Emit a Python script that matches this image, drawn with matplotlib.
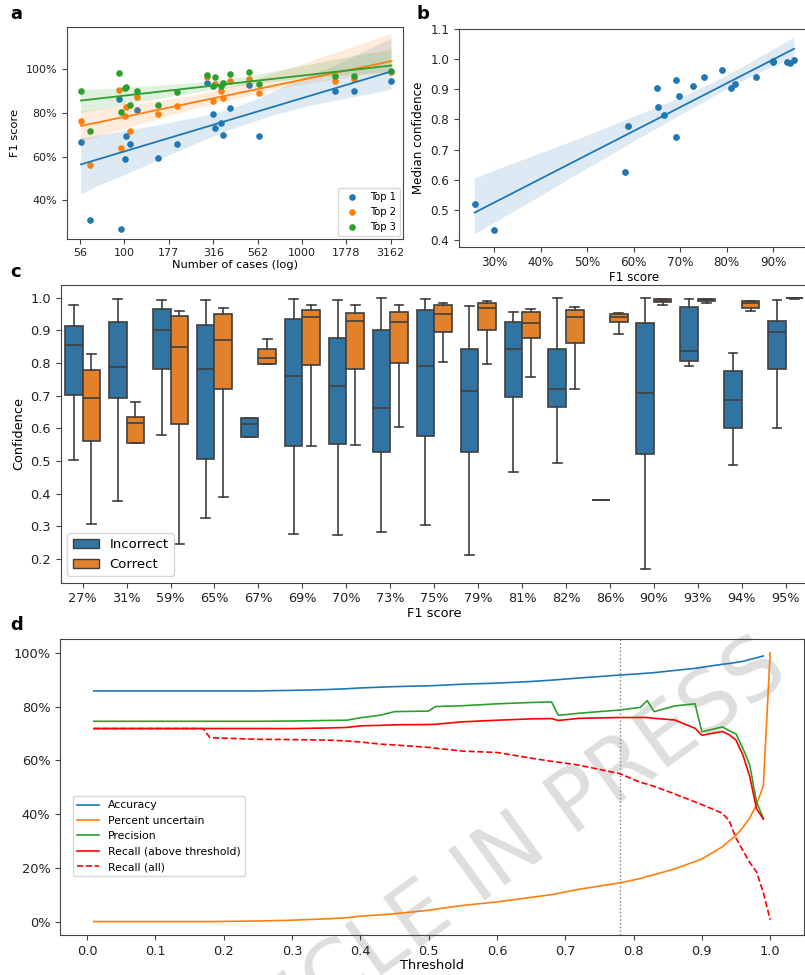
import matplotlib
matplotlib.use('Agg')
import matplotlib.pyplot as plt
import numpy as np
import seaborn as sns
from matplotlib.patches import Patch
from matplotlib.ticker import PercentFormatter

# ---- panel a: F1 vs number of cases ----
n_cases = [57, 64, 93, 96, 101, 102, 107, 117, 155, 198, 291, 316, 324, 348,
           361, 394, 506, 571, 1542, 1968, 3192]
top1_f1 = [0.667, 0.308, 0.864, 0.269, 0.588, 0.695, 0.656, 0.814, 0.592, 0.656, 0.939,
           0.794, 0.731, 0.756, 0.701, 0.821, 0.930, 0.695, 0.901, 0.901, 0.947]
top2_f1 = [0.762, 0.562, 0.904, 0.641, 0.785, 0.827, 0.716, 0.873, 0.794, 0.831, 0.966,
           0.853, 0.933, 0.899, 0.870, 0.947, 0.957, 0.889, 0.947, 0.957, 0.988]
top3_f1 = [0.899, 0.716, 0.982, 0.802, 0.915, 0.919, 0.838, 0.901, 0.838, 0.895, 0.974,
           0.925, 0.963, 0.924, 0.939, 0.976, 0.988, 0.934, 0.971, 0.971, 0.992]
case_ticks = [1.75, 2.0, 2.25, 2.5, 2.75, 3.0, 3.25, 3.5]
case_tick_labels = ['56', '100', '177', '316', '562', '1000', '1778', '3162']

# ---- panel b: median confidence vs F1 ----
class_f1 = [0.258, 0.300, 0.580, 0.588, 0.649, 0.651, 0.664, 0.691, 0.691, 0.698, 0.727,
            0.751, 0.790, 0.810, 0.817, 0.863, 0.899, 0.900, 0.929, 0.937, 0.945]
median_conf = [0.519, 0.433, 0.625, 0.779, 0.903, 0.842, 0.815, 0.932, 0.741, 0.877, 0.911,
               0.940, 0.965, 0.904, 0.918, 0.941, 0.993, 0.990, 0.992, 0.987, 0.998]

# ---- panel c: confidence boxes (whislo, q1, med, q3, whishi) ----
f1_labels = ['27%', '31%', '59%', '65%', '67%', '69%', '70%', '73%', '75%', '79%',
             '81%', '82%', '86%', '90%', '93%', '94%', '95%']
incorrect_box = [
    (0.504, 0.702, 0.854, 0.915, 0.978),
    (0.378, 0.694, 0.788, 0.926, 0.997),
    (0.581, 0.781, 0.902, 0.967, 0.993),
    (0.326, 0.506, 0.782, 0.918, 0.993),
    (0.574, 0.574, 0.614, 0.633, 0.633),
    (0.277, 0.547, 0.761, 0.934, 0.997),
    (0.275, 0.554, 0.729, 0.877, 0.993),
    (0.283, 0.529, 0.663, 0.900, 1.000),
    (0.305, 0.578, 0.790, 0.963, 0.996),
    (0.212, 0.527, 0.714, 0.842, 0.975),
    (0.467, 0.696, 0.844, 0.925, 0.955),
    (0.493, 0.666, 0.720, 0.842, 1.000),
    (0.382, 0.382, 0.382, 0.382, 0.382),
    (0.171, 0.522, 0.709, 0.923, 1.000),
    (0.790, 0.805, 0.837, 0.972, 0.996),
    (0.489, 0.600, 0.687, 0.776, 0.831),
    (0.602, 0.781, 0.894, 0.929, 0.994),
]
correct_box = [
    (0.309, 0.561, 0.692, 0.778, 0.828),
    (0.555, 0.555, 0.618, 0.635, 0.681),
    (0.246, 0.613, 0.849, 0.944, 0.959),
    (0.390, 0.721, 0.871, 0.950, 0.969),
    (0.796, 0.796, 0.817, 0.843, 0.875),
    (0.547, 0.793, 0.941, 0.963, 0.978),
    (0.548, 0.782, 0.929, 0.953, 0.978),
    (0.604, 0.801, 0.925, 0.957, 0.978),
    (0.804, 0.896, 0.950, 0.977, 0.983),
    (0.796, 0.901, 0.968, 0.983, 0.990),
    (0.758, 0.876, 0.923, 0.955, 0.965),
    (0.720, 0.861, 0.941, 0.964, 0.972),
    (0.890, 0.926, 0.942, 0.951, 0.954),
    (0.978, 0.986, 0.991, 0.996, 0.997),
    (0.985, 0.991, 0.993, 0.995, 0.996),
    (0.958, 0.969, 0.985, 0.990, 0.991),
    (0.997, 0.998, 0.998, 0.999, 1.000),
]

# ---- panel d: metrics vs threshold (percent) ----
thresholds = [0.01, 0.10, 0.17, 0.18, 0.25, 0.30, 0.35, 0.38, 0.40, 0.43, 0.45, 0.50, 0.51,
              0.55, 0.60, 0.65, 0.68, 0.69, 0.72, 0.78, 0.81, 0.82, 0.83, 0.86, 0.89, 0.90,
              0.93, 0.94, 0.95, 0.96, 0.97, 0.98, 0.99]
accuracy = [85.8, 85.8, 85.8, 85.8, 85.8, 86.0, 86.3, 86.6, 86.9, 87.2, 87.4, 87.7, 87.8,
            88.3, 88.7, 89.3, 89.8, 90.0, 90.6, 91.7, 92.2, 92.4, 92.6, 93.4, 94.2, 94.6,
            95.7, 96.0, 96.4, 96.8, 97.5, 98.1, 98.8]
pct_uncertain = [0.0, 0.0, 0.0, 0.0, 0.2, 0.5, 1.0, 1.4, 2.0, 2.5, 2.9, 4.2, 4.6,
                 6.0, 7.3, 9.0, 10.0, 10.5, 12.0, 14.4, 16.0, 16.8, 17.4, 19.6, 22.3, 23.3,
                 27.8, 30.0, 32.0, 35.0, 38.5, 43.5, 50.5, 100.0]
precision = [74.5, 74.5, 74.5, 74.5, 74.5, 74.6, 74.8, 74.9, 75.8, 76.8, 78.1, 78.3, 80.0,
             80.3, 81.0, 81.5, 81.7, 76.7, 77.5, 78.7, 79.7, 82.2, 78.1, 80.2, 81.0, 70.6,
             72.4, 71.0, 69.8, 64.5, 58.3, 44.5, 38.4]
recall_above = [71.8, 71.8, 71.8, 71.8, 71.8, 71.8, 72.0, 72.2, 72.8, 73.0, 73.2, 73.3, 73.4,
                74.3, 74.9, 75.4, 75.5, 74.8, 75.6, 75.9, 75.9, 75.9, 75.6, 75.0, 71.9, 69.3,
                70.7, 69.5, 67.5, 62.0, 54.0, 42.0, 38.1]
recall_all = [71.8, 71.8, 71.8, 68.4, 67.8, 67.7, 67.5, 67.2, 66.8, 66.0, 65.7, 64.8, 64.5,
              63.4, 62.9, 60.8, 59.6, 59.3, 58.2, 55.0, 51.8, 51.1, 50.3, 47.5, 44.5, 43.5,
              40.3, 37.5, 31.0, 26.5, 22.0, 18.5, 10.7, 0.7]
chosen_threshold = 0.78

edge = '#444444'
plt.rcParams['axes.edgecolor'] = edge
plt.rcParams['xtick.color'] = edge
plt.rcParams['ytick.color'] = edge
plt.rcParams['xtick.labelcolor'] = '#222222'
plt.rcParams['ytick.labelcolor'] = '#222222'

fig = plt.figure(figsize=(8.05, 9.75), dpi=100)
W, H = 805.0, 975.0


def px_axes(left, top, right, bottom):
    return fig.add_axes([left / W, 1 - bottom / H, (right - left) / W, (bottom - top) / H])


# ---------- a ----------
ax_a = px_axes(66.7, 27.3, 403, 238.7)
logx = np.log10(n_cases)
for vals, lab, col in [(top1_f1, 'Top 1', '#1f77b4'), (top2_f1, 'Top 2', '#ff7f0e'),
                       (top3_f1, 'Top 3', '#2ca02c')]:
    sns.regplot(x=logx, y=np.array(vals), ax=ax_a, color=col, seed=0, label=lab,
                scatter_kws={'s': 14, 'alpha': 1}, line_kws={'lw': 1.3})
ax_a.set_xlim(1.675, 3.569)
ax_a.set_ylim(0.224, 1.192)
ax_a.set_xticks(case_ticks)
ax_a.set_xticklabels(case_tick_labels)
ax_a.set_yticks([0.4, 0.6, 0.8, 1.0])
ax_a.yaxis.set_major_formatter(PercentFormatter(1.0, decimals=0))
ax_a.tick_params(labelsize=8)
ax_a.set_xlabel('Number of cases (log)', fontsize=8.2, labelpad=1)
ax_a.set_ylabel('F1 score', fontsize=8.2)
ax_a.legend(loc='lower right', fontsize=7.2, borderaxespad=0.3)

# ---------- b ----------
ax_b = px_axes(459, 29, 810, 246.7)
sns.regplot(x=np.array(class_f1), y=np.array(median_conf), ax=ax_b, color='#1f77b4', seed=0,
            scatter_kws={'s': 15, 'alpha': 1}, line_kws={'lw': 1.3})
ax_b.set_xlim(0.224, 0.979)
ax_b.set_ylim(0.378, 1.1)
ax_b.set_xticks([0.3, 0.4, 0.5, 0.6, 0.7, 0.8, 0.9])
ax_b.xaxis.set_major_formatter(PercentFormatter(1.0, decimals=0))
ax_b.set_yticks([0.4, 0.5, 0.6, 0.7, 0.8, 0.9, 1.0, 1.1])
ax_b.tick_params(labelsize=8.6)
ax_b.set_xlabel('F1 score', fontsize=8.6, labelpad=1)
ax_b.set_ylabel('Median confidence', fontsize=8.6)

# ---------- c ----------
ax_c = px_axes(60.7, 284.7, 807.7, 582.7)
box_gray = '#3f3f3f'
for boxes, offset, fc in [(incorrect_box, -0.2, '#3274a1'), (correct_box, 0.2, '#e1812c')]:
    stats = [{'whislo': b[0], 'q1': b[1], 'med': b[2], 'q3': b[3], 'whishi': b[4], 'fliers': []}
             for b in boxes]
    pos = np.arange(len(boxes)) + offset
    ax_c.bxp(stats, positions=pos, widths=0.4, patch_artist=True, showfliers=False,
             boxprops={'facecolor': fc, 'edgecolor': box_gray, 'linewidth': 1.2},
             whiskerprops={'color': box_gray, 'linewidth': 1.2},
             capprops={'color': box_gray, 'linewidth': 1.2},
             medianprops={'color': box_gray, 'linewidth': 1.2})
ax_c.set_xlim(-0.5, len(f1_labels) - 0.5)
ax_c.set_ylim(0.128, 1.04)
ax_c.set_xticks(np.arange(len(f1_labels)))
ax_c.set_xticklabels(f1_labels)
ax_c.set_yticks([0.2, 0.3, 0.4, 0.5, 0.6, 0.7, 0.8, 0.9, 1.0])
ax_c.tick_params(labelsize=9.3)
ax_c.set_xlabel('F1 score', fontsize=9.3, labelpad=1)
ax_c.set_ylabel('Confidence', fontsize=9.3)
ax_c.legend(handles=[Patch(facecolor='#3274a1', edgecolor=box_gray, label='Incorrect'),
                     Patch(facecolor='#e1812c', edgecolor=box_gray, label='Correct')],
            loc='lower left', fontsize=9.5)

# ---------- d ----------
ax_d = px_axes(60, 639.3, 804, 935)
t_ext = thresholds + [1.0]
ax_d.plot(thresholds, accuracy, color='#1f77b4', lw=1.2, label='Accuracy')
ax_d.plot(t_ext, pct_uncertain, color='#ff7f0e', lw=1.2, label='Percent uncertain')
ax_d.plot(thresholds, precision, color='#2ca02c', lw=1.2, label='Precision')
ax_d.plot(thresholds, recall_above, color='red', lw=1.2, label='Recall (above threshold)')
ax_d.plot(t_ext, recall_all, color='red', lw=1.2, ls='--', label='Recall (all)')
ax_d.axvline(chosen_threshold, color='gray', ls=':', lw=1)
ax_d.set_xlim(-0.0395, 1.0495)
ax_d.set_ylim(-5, 105)
ax_d.set_xticks(np.arange(0, 1.01, 0.1))
ax_d.set_yticks([0, 20, 40, 60, 80, 100])
ax_d.yaxis.set_major_formatter(PercentFormatter(100, decimals=0))
ax_d.tick_params(labelsize=9.3)
ax_d.set_xlabel('Threshold', fontsize=9.3, labelpad=1)
ax_d.legend(loc='lower left', bbox_to_anchor=(0.01, 0.18), fontsize=7.8)

# watermark
ax_d.text(470 / W, 1 - 882 / H, 'ARTICLE IN PRESS', transform=fig.transFigure,
          rotation=36, rotation_mode='anchor', ha='center', va='center',
          fontsize=61, color='#dedede', zorder=0.5, clip_on=False)

# panel letters
for letter, x, y in [('a', 10.7, 19.3), ('b', 416.7, 19), ('c', 10.7, 277), ('d', 10, 630)]:
    fig.text(x / W, 1 - y / H, letter, fontsize=13, fontweight='bold', va='baseline')

fig.savefig('out.png', dpi=100)
